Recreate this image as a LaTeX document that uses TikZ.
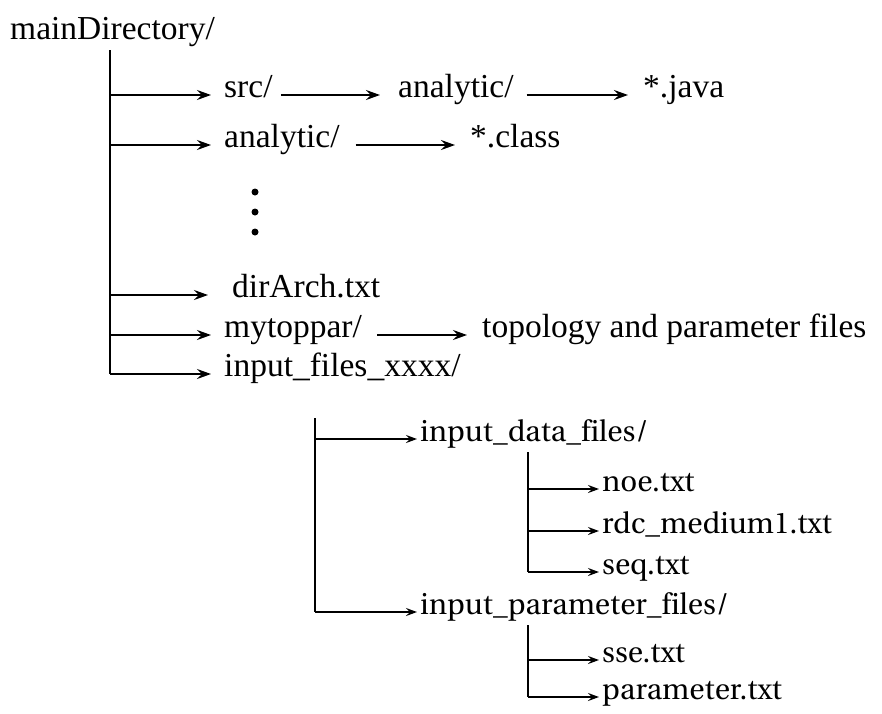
\documentclass[tikz,border=0pt]{standalone}
\usepackage[T1]{fontenc}
\usepackage{fontspec}
\setmainfont{Liberation Serif}
\usetikzlibrary{arrows.meta}
% Face for the lower part of the tree: Utopia when present, else a condensed serif
\IfFileExists{t1put.fd}{%
  \newcommand\lowerfont{\fontsize{29.5}{35}\fontencoding{T1}\fontfamily{put}\selectfont}%
}{%
  \newfontfamily\dejacond{DejaVu Serif Condensed}%
  \newcommand\lowerfont{\dejacond\fontsize{26}{32}\selectfont}%
}

\begin{document}
\begin{tikzpicture}[x=1pt,y=-1pt,
  lbl/.style={anchor=mid west, inner sep=0pt, font=\fontsize{33.5}{40}\selectfont},
  lblu/.style={anchor=mid west, inner sep=0pt, font=\lowerfont},
  wire/.style={line width=1.4pt},
  arr/.style={line width=1.4pt, -{Stealth[length=14pt,width=10pt,inset=5pt]}},
  arrs/.style={line width=1.4pt, -{Stealth[length=11pt,width=8pt,inset=4pt]}},
  dotmark/.style={circle, fill=black, inner sep=0pt, minimum size=7pt}]
\useasboundingbox (0,0) rectangle (882,713);

% root
\node[lbl, anchor=base west] (root) at (10,39) {mainDirectory/};
\coordinate (t1) at (110,50);

% first level
\node[lbl] (src)     at (224,95)  {src/};
\node[lbl] (srcana)  at (398,95)  {analytic/};
\node[lbl] (java)    at (643,95)  {*.java};
\node[lbl] (ana)     at (224,145) {analytic/};
\node[lbl] (cls)     at (470,145) {*.class};
\node[dotmark] (d1) at (255,192) {};
\node[dotmark] (d2) at (255,212) {};
\node[dotmark] (d3) at (255,232) {};
\node[lbl] (arch)    at (232,295) {dirArch.txt};
\node[lbl] (top)     at (224,335) {mytoppar/};
\node[lbl] (topf)    at (482,335) {topology and parameter files};
\node[lbl] (inp)     at (224,374) {input\_files\_xxxx/};

\draw[wire] (t1) -- (t1 |- inp.mid west);
\draw[arr, shorten >=13pt] (t1 |- src.mid west) -- (src.mid west);
\draw[arr, shorten >=13pt] (t1 |- ana.mid west) -- (ana.mid west);
\draw[arr, shorten >=24pt] (t1 |- arch.mid west) -- (arch.mid west);
\draw[arr, shorten >=13pt] (t1 |- top.mid west) -- (top.mid west);
\draw[arr, shorten >=13pt] (t1 |- inp.mid west) -- (inp.mid west);
\draw[arr, shorten <=8pt, shorten >=18pt] (src.mid east) -- (srcana.mid west);
\draw[arr, shorten <=13pt, shorten >=15pt] (srcana.mid east) -- (java.mid west);
\draw[arr, shorten <=16pt, shorten >=15pt] (ana.mid east) -- (cls.mid west);
\draw[arr, shorten <=15pt, shorten >=15pt] (top.mid east) -- (topf.mid west);

% second level
\coordinate (t2) at (315,418);
\node[lblu] (data)  at (420,439) {input\_data\_f{}iles/};
\node[lblu] (param) at (420,612) {input\_parameter\_f{}iles/};
\draw[wire] (t2) -- (t2 |- param.mid west);
\draw[arrs, shorten >=3pt] (t2 |- data.mid west) -- (data.mid west);
\draw[arrs, shorten >=3pt] (t2 |- param.mid west) -- (param.mid west);

% data files
\coordinate (t3) at (528,452);
\node[lblu] (noe) at (602,489) {noe.txt};
\node[lblu] (rdc) at (602,531) {rdc\_medium1.txt};
\node[lblu] (seq) at (602,572) {seq.txt};
\draw[wire] (t3) -- (t3 |- seq.mid west);
\draw[arrs, shorten >=3pt] (t3 |- noe.mid west) -- (noe.mid west);
\draw[arrs, shorten >=3pt] (t3 |- rdc.mid west) -- (rdc.mid west);
\draw[arrs, shorten >=3pt] (t3 |- seq.mid west) -- (seq.mid west);

% parameter files
\coordinate (t4) at (528,625);
\node[lblu] (sse) at (602,660) {sse.txt};
\node[lblu] (par) at (602,697) {parameter.txt};
\draw[wire] (t4) -- (t4 |- par.mid west);
\draw[arrs, shorten >=3pt] (t4 |- sse.mid west) -- (sse.mid west);
\draw[arrs, shorten >=3pt] (t4 |- par.mid west) -- (par.mid west);
\end{tikzpicture}
\end{document}
